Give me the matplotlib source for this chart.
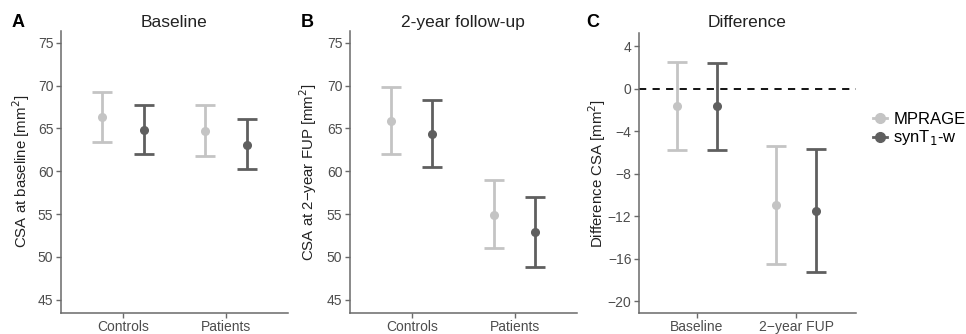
import matplotlib.pyplot as plt
from matplotlib.lines import Line2D

plt.rcParams['font.family'] = ['Liberation Sans', 'DejaVu Sans']

# dados: media e IC (inferior, superior)
grupos = ["Controls", "Patients"]
tempos = ["Baseline", "2\u2212year FUP"]
metodos = ["MPRAGE", "synT$_1$-w"]
cores = ["#c4c4c4", "#5f5f5f"]

base_media = {"MPRAGE": [66.3, 64.7], "syn": [64.8, 63.1]}
base_inf = {"MPRAGE": [63.4, 61.8], "syn": [62.0, 60.3]}
base_sup = {"MPRAGE": [69.3, 67.7], "syn": [67.7, 66.1]}

fup_media = {"MPRAGE": [65.9, 54.95], "syn": [64.4, 52.9]}
fup_inf = {"MPRAGE": [62.0, 51.0], "syn": [60.5, 48.8]}
fup_sup = {"MPRAGE": [69.8, 59.0], "syn": [68.3, 57.0]}

dif_media = {"MPRAGE": [-1.6, -10.95], "syn": [-1.67, -11.48]}
dif_inf = {"MPRAGE": [-5.78, -16.47], "syn": [-5.74, -17.26]}
dif_sup = {"MPRAGE": [2.54, -5.43], "syn": [2.41, -5.71]}

chaves = ["MPRAGE", "syn"]
cinza_texto = "#4d4d4d"
cinza_eixo = "#6a6a6a"


def desenhar(ax, media, inf, sup, rotulos):
    for k, (chave, cor) in enumerate(zip(chaves, cores)):
        desloc = -0.2 if k == 0 else 0.2
        xs = [i + desloc for i in range(len(rotulos))]
        m = media[chave]
        erro = [[mm - lo for mm, lo in zip(m, inf[chave])],
                [hi - mm for mm, hi in zip(m, sup[chave])]]
        ax.errorbar(xs, m, yerr=erro, fmt='o', color=cor, ecolor=cor,
                    elinewidth=2, capsize=7.5, capthick=2, markersize=5.5,
                    zorder=3)
    ax.set_xticks(range(len(rotulos)))
    ax.set_xticklabels(rotulos)
    ax.set_xlim(-0.6, 1.6)
    for lado in ["top", "right"]:
        ax.spines[lado].set_visible(False)
    for lado in ["left", "bottom"]:
        ax.spines[lado].set_color(cinza_eixo)
        ax.spines[lado].set_linewidth(1.1)
    ax.tick_params(colors=cinza_eixo, labelcolor=cinza_texto, labelsize=10,
                   length=3.5, width=1, pad=2)


fig = plt.figure(figsize=(9.66, 3.34), dpi=100)
axA = fig.add_axes([0.0631, 0.0638, 0.235, 0.844])
axB = fig.add_axes([0.3623, 0.0638, 0.2347, 0.844])
axC = fig.add_axes([0.6615, 0.0638, 0.2246, 0.836])

desenhar(axA, base_media, base_inf, base_sup, grupos)
axA.set_ylim(43.5, 76.4)
axA.set_yticks([45, 50, 55, 60, 65, 70, 75])
axA.set_ylabel("CSA at baseline [mm$^2$]", fontsize=10.8, color="#222222")
axA.yaxis.set_label_coords(-0.127, 0.5)
axA.set_title("Baseline", fontsize=12.5, color="#222222", pad=3)

desenhar(axB, fup_media, fup_inf, fup_sup, grupos)
axB.set_ylim(43.5, 76.4)
axB.set_yticks([45, 50, 55, 60, 65, 70, 75])
axB.set_ylabel("CSA at 2\u2212year FUP [mm$^2$]", fontsize=10.8, color="#222222")
axB.yaxis.set_label_coords(-0.136, 0.5)
axB.set_title("2-year follow-up", fontsize=12.5, color="#222222", pad=3)

axC.axhline(0, color="black", linewidth=1.3, dashes=(4, 3.5), zorder=1)
desenhar(axC, dif_media, dif_inf, dif_sup, tempos)
axC.set_xlim(-0.58, 1.6)
axC.set_ylim(-21.1, 5.2)
axC.set_yticks([4, 0, -4, -8, -12, -16, -20])
axC.set_ylabel("Difference CSA [mm$^2$]", fontsize=10.8, color="#222222")
axC.yaxis.set_label_coords(-0.143, 0.5)
axC.set_title("Difference", fontsize=12.5, color="#222222", pad=5)

# letras dos paineis
for letra, x in zip(["A", "B", "C"], [0.012, 0.311, 0.607]):
    fig.text(x, 0.92, letra, fontsize=13, fontweight="bold", color="black")

# legenda fora do painel C
alcas = [Line2D([0], [0], color=c, marker='o', markersize=7, linewidth=2)
         for c in cores]
fig.legend(alcas, metodos, loc="center left", bbox_to_anchor=(0.897, 0.612),
           frameon=False, fontsize=12, handlelength=0.8, handletextpad=0.4,
           labelspacing=0.1, borderaxespad=0)

fig.savefig("out.png", dpi=100)
plt.close()
